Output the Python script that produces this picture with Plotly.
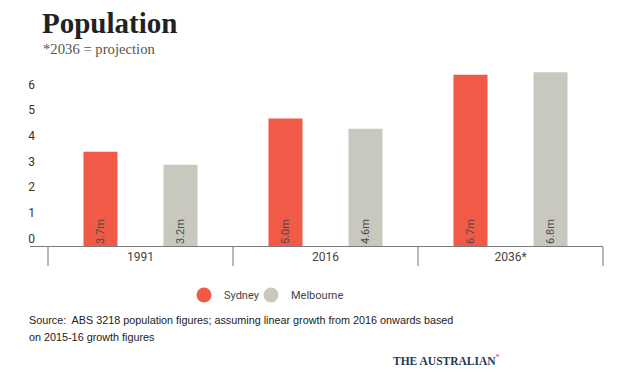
import plotly.graph_objects as go

categories = ["1991", "2016", "2036*"]
sydney = [3.7, 5.0, 6.7]
melbourne = [3.2, 4.6, 6.8]
sydney_labels = ["3.7m", "5.0m", "6.7m"]
melbourne_labels = ["3.2m", "4.6m", "6.8m"]
y_ticks = [0, 1, 2, 3, 4, 5, 6]

RED = "#f05a47"
GREY = "#c8c8bf"

fig = go.Figure()
for name, vals, labels, col, leg in [("Sydney", sydney, sydney_labels, RED, "legend"),
                                     ("Melbourne", melbourne, melbourne_labels, GREY, "legend2")]:
    fig.add_trace(go.Bar(
        x=categories, y=vals, name=name, marker_color=col, marker_line_width=0,
        text=labels, textposition="inside", insidetextanchor="start", textangle=-90,
        textfont=dict(family="Roboto, Arial, sans-serif", size=11, color="#4a4a4a"),
        showlegend=False, hoverinfo="skip",
    ))
    fig.add_trace(go.Scatter(
        x=[None], y=[None], mode="markers", name=name, legend=leg,
        marker=dict(symbol="circle", size=15, color=col),
    ))

W, H = 627, 382
L, R, T, B = 48, 24, 67, 135
pw = W - L - R
ph = H - T - B

def px_x(x):
    return (x - L) / pw

def px_y(y):
    return 1 - (y - T) / ph

legfont = dict(family="Roboto, Arial, sans-serif", size=11, color="#444444")

fig.update_layout(
    width=W, height=H,
    margin=dict(l=L, r=R, t=T, b=B, pad=0, autoexpand=False),
    paper_bgcolor="white", plot_bgcolor="white",
    barmode="group", bargap=0.135, bargroupgap=0.575,
    xaxis=dict(
        showgrid=False, showline=False, zeroline=False, ticks="", automargin=False,
        tickfont=dict(family="Roboto, Arial, sans-serif", size=12, color="#444444"),
        ticklabelstandoff=1,
    ),
    yaxis=dict(
        range=[0, 7], tickvals=y_ticks, showgrid=False, zeroline=False, showline=False,
        ticks="", ticklabelposition="outside top", ticklabelstandoff=12, automargin=False,
        tickfont=dict(family="Roboto, Arial, sans-serif", size=12, color="#333333"),
    ),
    legend=dict(
        orientation="h", x=px_x(184), xanchor="left", y=px_y(295), yanchor="middle",
        font=legfont, itemwidth=30, bgcolor="rgba(0,0,0,0)",
    ),
    legend2=dict(
        orientation="h", x=px_x(251), xanchor="left", y=px_y(295), yanchor="middle",
        font=legfont, itemwidth=30, bgcolor="rgba(0,0,0,0)",
    ),
    showlegend=True,
)

# baseline axis line and category dividers
fig.add_shape(type="line", xref="paper", yref="y", x0=px_x(30), x1=1, y0=0, y1=0,
              line=dict(color="#7a7a7a", width=2))
for i in range(len(categories) + 1):
    fig.add_shape(type="line", xref="paper", yref="paper", x0=i / len(categories), x1=i / len(categories),
                  y0=0, y1=px_y(266), line=dict(color="#8a8a8a", width=1.2))

fig.add_annotation(text="<b>Population</b>", xref="paper", yref="paper", x=px_x(40), y=px_y(23),
                   xanchor="left", yanchor="middle", showarrow=False,
                   font=dict(family="Liberation Serif, Times New Roman, serif", size=29, color="#222222"))
fig.add_annotation(text="*2036 = projection", xref="paper", yref="paper", x=px_x(41), y=px_y(49),
                   xanchor="left", yanchor="middle", showarrow=False,
                   font=dict(family="Liberation Serif, Times New Roman, serif", size=14.7, color="#555555"))
source_lines = ["Source:  ABS 3218 population figures; assuming linear growth from 2016 onwards based",
                "on 2015-16 growth figures"]
for line, yy in zip(source_lines, [320, 337]):
    fig.add_annotation(text=line, xref="paper", yref="paper", x=px_x(27), y=px_y(yy), align="left",
                       xanchor="left", yanchor="middle", showarrow=False,
                       font=dict(family="Liberation Sans, Arial, sans-serif", size=10.8, color="#222222"))
fig.add_annotation(text="<b>THE AUSTRALIAN</b><span style='color:#e8473a'><sup>*</sup></span>",
                   xref="paper", yref="paper", x=px_x(391), y=px_y(360),
                   xanchor="left", yanchor="middle", showarrow=False,
                   font=dict(family="Liberation Serif, Times New Roman, serif", size=11.5, color="#1e3a52"))

fig.write_html("out.html", post_script="document.body.style.margin='0px';",
               config={"displayModeBar": False})
